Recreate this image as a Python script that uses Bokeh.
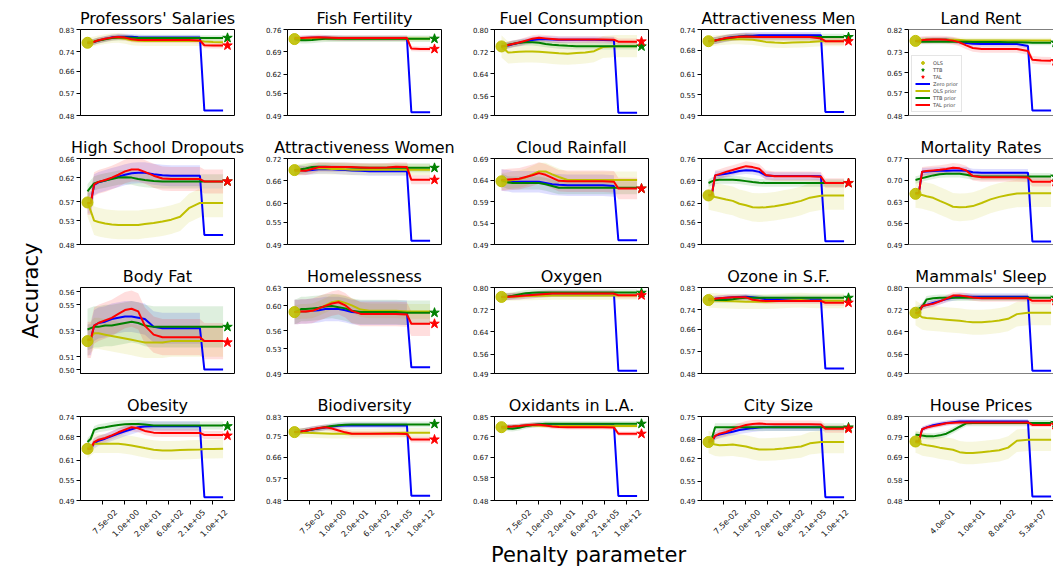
import math
from bokeh.plotting import figure
from bokeh.layouts import row, column
from bokeh.models import (Range1d, FixedTicker, PrintfTickFormatter, Legend, LegendItem, Span, Spacer,
                          LinearAxis)
from bokeh.core.properties import value
from bokeh.embed import file_html
from bokeh.resources import INLINE

FONT = "DejaVu Sans"
C_ZERO, C_OLS, C_TTB, C_TAL = "#0000ff", "#bfbf00", "#008000", "#ff0000"

# penalty-grid index (shared by all panels)
X = [0, 1.5, 3, 5, 8, 11, 14, 17, 20, 23, 26, 30, 34, 38, 42, 46, 51, 53, 57, 61.5]
X_OLS = 0
X_STAR = 63.5

titles = ["Professors' Salaries", "Fish Fertility", "Fuel Consumption", "Attractiveness Men", "Land Rent",
          "High School Dropouts", "Attractiveness Women", "Cloud Rainfall", "Car Accidents", "Mortality Rates",
          "Body Fat", "Homelessness", "Oxygen", "Ozone in S.F.", "Mammals' Sleep",
          "Obesity", "Biodiversity", "Oxidants in L.A.", "City Size", "House Prices"]

yticks = [
    [0.48, 0.57, 0.66, 0.74, 0.83], [0.49, 0.56, 0.62, 0.69, 0.76], [0.49, 0.56, 0.64, 0.72, 0.80],
    [0.49, 0.55, 0.61, 0.68, 0.74], [0.48, 0.57, 0.65, 0.73, 0.82],
    [0.48, 0.53, 0.57, 0.62, 0.66], [0.49, 0.55, 0.60, 0.66, 0.72], [0.49, 0.54, 0.59, 0.64, 0.69],
    [0.49, 0.56, 0.62, 0.69, 0.76], [0.49, 0.56, 0.63, 0.70, 0.77],
    [0.50, 0.51, 0.53, 0.55, 0.56], [0.49, 0.53, 0.56, 0.60, 0.63], [0.49, 0.56, 0.64, 0.72, 0.80],
    [0.48, 0.57, 0.66, 0.74, 0.83], [0.49, 0.56, 0.64, 0.72, 0.80],
    [0.49, 0.55, 0.61, 0.68, 0.74], [0.48, 0.57, 0.66, 0.75, 0.83], [0.48, 0.58, 0.67, 0.76, 0.85],
    [0.49, 0.55, 0.62, 0.68, 0.75], [0.48, 0.58, 0.69, 0.79, 0.89]]

ylo = [0.48, 0.49, 0.49, 0.49, 0.48, 0.48, 0.49, 0.49, 0.49, 0.49,
       0.497, 0.49, 0.49, 0.48, 0.49, 0.49, 0.48, 0.48, 0.49, 0.48]
yhi = [0.83, 0.76, 0.80, 0.74, 0.82, 0.66, 0.72, 0.69, 0.76, 0.77,
       0.5634, 0.63, 0.80, 0.83, 0.80, 0.74, 0.83, 0.85, 0.75, 0.89]

xtick_pos = [6.8, 16.8, 26.8, 36.8, 46.8, 56.8]
xtick_labels = ["7.5e-02", "1.0e+00", "2.0e+01", "6.0e+02", "2.1e+05", "1.0e+12"]
xtick_pos_hp = [11.0, 24.9, 38.7, 52.7]
xtick_labels_hp = ["4.0e-01", "1.0e+01", "8.0e+02", "5.3e+07"]

zero_prior = [
    [0.776, 0.776, 0.780, 0.785, 0.792, 0.798, 0.801, 0.801, 0.800, 0.798, 0.797, 0.797, 0.797, 0.797, 0.797, 0.797, 0.797, 0.50, 0.50, 0.50],
    [0.730, 0.731, 0.732, 0.733, 0.734, 0.734, 0.734, 0.733, 0.733, 0.732, 0.732, 0.732, 0.732, 0.732, 0.732, 0.732, 0.732, 0.50, 0.50, 0.50],
    [0.739, 0.740, 0.742, 0.747, 0.752, 0.757, 0.762, 0.765, 0.765, 0.764, 0.763, 0.763, 0.763, 0.763, 0.763, 0.762, 0.761, 0.50, 0.50, 0.50],
    [0.706, 0.707, 0.708, 0.710, 0.715, 0.718, 0.720, 0.722, 0.722, 0.723, 0.723, 0.723, 0.723, 0.723, 0.723, 0.723, 0.723, 0.50, 0.50, 0.50],
    [0.775, 0.776, 0.778, 0.779, 0.780, 0.780, 0.780, 0.777, 0.770, 0.767, 0.764, 0.763, 0.763, 0.763, 0.763, 0.763, 0.755, 0.50, 0.50, 0.50],
    [0.567, 0.567, 0.605, 0.610, 0.614, 0.618, 0.622, 0.626, 0.629, 0.630, 0.630, 0.627, 0.625, 0.624, 0.624, 0.624, 0.624, 0.50, 0.50, 0.50],
    [0.689, 0.689, 0.689, 0.688, 0.689, 0.691, 0.691, 0.691, 0.690, 0.689, 0.688, 0.687, 0.686, 0.686, 0.686, 0.686, 0.686, 0.50, 0.50, 0.50],
    [0.640, 0.639, 0.638, 0.636, 0.636, 0.636, 0.636, 0.636, 0.633, 0.630, 0.629, 0.628, 0.628, 0.628, 0.628, 0.628, 0.626, 0.50, 0.50, 0.50],
    [0.645, 0.646, 0.707, 0.709, 0.712, 0.716, 0.721, 0.723, 0.722, 0.718, 0.707, 0.705, 0.705, 0.705, 0.705, 0.705, 0.704, 0.50, 0.50, 0.50],
    [0.657, 0.657, 0.727, 0.728, 0.729, 0.730, 0.730, 0.731, 0.731, 0.730, 0.725, 0.724, 0.724, 0.724, 0.724, 0.724, 0.724, 0.50, 0.50, 0.50],
    [0.523, 0.523, 0.534, 0.536, 0.537, 0.539, 0.540, 0.541, 0.541, 0.540, 0.539, 0.533, 0.532, 0.532, 0.532, 0.532, 0.532, 0.50, 0.50, 0.50],
    [0.590, 0.590, 0.591, 0.591, 0.592, 0.593, 0.595, 0.595, 0.595, 0.593, 0.590, 0.589, 0.589, 0.589, 0.589, 0.589, 0.589, 0.50, 0.50, 0.50],
    [0.766, 0.766, 0.767, 0.768, 0.769, 0.771, 0.773, 0.775, 0.777, 0.778, 0.778, 0.778, 0.778, 0.778, 0.778, 0.778, 0.778, 0.50, 0.50, 0.50],
    [0.783, 0.783, 0.784, 0.786, 0.788, 0.790, 0.791, 0.792, 0.790, 0.787, 0.782, 0.781, 0.781, 0.781, 0.781, 0.781, 0.781, 0.50, 0.50, 0.50],
    [0.709, 0.709, 0.733, 0.737, 0.744, 0.751, 0.758, 0.764, 0.768, 0.768, 0.767, 0.767, 0.767, 0.767, 0.767, 0.767, 0.767, 0.50, 0.50, 0.50],
    [0.644, 0.644, 0.660, 0.668, 0.674, 0.682, 0.689, 0.696, 0.702, 0.708, 0.710, 0.711, 0.711, 0.711, 0.711, 0.711, 0.711, 0.50, 0.50, 0.50],
    [0.765, 0.766, 0.768, 0.771, 0.776, 0.780, 0.784, 0.788, 0.791, 0.793, 0.793, 0.793, 0.793, 0.793, 0.793, 0.793, 0.793, 0.50, 0.50, 0.50],
    [0.803, 0.804, 0.805, 0.806, 0.808, 0.810, 0.812, 0.815, 0.814, 0.812, 0.811, 0.811, 0.811, 0.811, 0.811, 0.811, 0.811, 0.50, 0.50, 0.50],
    [0.671, 0.671, 0.690, 0.694, 0.699, 0.703, 0.708, 0.711, 0.714, 0.716, 0.717, 0.717, 0.717, 0.717, 0.717, 0.717, 0.717, 0.50, 0.50, 0.50],
    [0.768, 0.768, 0.828, 0.837, 0.847, 0.853, 0.858, 0.862, 0.866, 0.866, 0.866, 0.866, 0.866, 0.866, 0.866, 0.866, 0.866, 0.50, 0.50, 0.50]]

ols_prior = [
    [0.776, 0.779, 0.782, 0.786, 0.791, 0.795, 0.796, 0.792, 0.786, 0.784, 0.783, 0.783, 0.783, 0.783, 0.783, 0.783, 0.783, 0.781, 0.779, 0.778],
    [0.730, 0.730, 0.731, 0.731, 0.731, 0.731, 0.731, 0.731, 0.731, 0.731, 0.731, 0.731, 0.731, 0.731, 0.731, 0.731, 0.731, 0.731, 0.731, 0.731],
    [0.739, 0.728, 0.717, 0.718, 0.720, 0.721, 0.721, 0.720, 0.718, 0.716, 0.714, 0.713, 0.715, 0.717, 0.722, 0.737, 0.740, 0.740, 0.740, 0.740],
    [0.706, 0.707, 0.708, 0.709, 0.711, 0.712, 0.712, 0.711, 0.710, 0.707, 0.704, 0.702, 0.701, 0.702, 0.703, 0.704, 0.706, 0.706, 0.706, 0.706],
    [0.775, 0.777, 0.779, 0.780, 0.780, 0.780, 0.780, 0.779, 0.778, 0.777, 0.777, 0.777, 0.777, 0.777, 0.777, 0.777, 0.777, 0.777, 0.777, 0.777],
    [0.568, 0.550, 0.530, 0.527, 0.524, 0.522, 0.521, 0.521, 0.521, 0.521, 0.523, 0.525, 0.528, 0.532, 0.538, 0.556, 0.567, 0.567, 0.567, 0.567],
    [0.689, 0.690, 0.691, 0.692, 0.693, 0.693, 0.693, 0.692, 0.692, 0.691, 0.690, 0.690, 0.690, 0.690, 0.690, 0.690, 0.690, 0.690, 0.690, 0.690],
    [0.637, 0.637, 0.638, 0.640, 0.642, 0.646, 0.653, 0.660, 0.660, 0.653, 0.647, 0.640, 0.640, 0.640, 0.640, 0.640, 0.640, 0.640, 0.640, 0.640],
    [0.644, 0.642, 0.639, 0.636, 0.631, 0.627, 0.618, 0.613, 0.607, 0.606, 0.607, 0.610, 0.615, 0.620, 0.627, 0.637, 0.643, 0.644, 0.644, 0.644],
    [0.655, 0.653, 0.651, 0.647, 0.642, 0.632, 0.623, 0.613, 0.611, 0.612, 0.615, 0.625, 0.637, 0.645, 0.651, 0.656, 0.657, 0.657, 0.657, 0.657],
    [0.522, 0.525, 0.528, 0.528, 0.527, 0.526, 0.525, 0.524, 0.523, 0.522, 0.521, 0.521, 0.521, 0.522, 0.522, 0.522, 0.522, 0.522, 0.522, 0.522],
    [0.590, 0.590, 0.591, 0.591, 0.592, 0.596, 0.601, 0.606, 0.608, 0.605, 0.601, 0.594, 0.592, 0.592, 0.592, 0.592, 0.591, 0.591, 0.591, 0.591],
    [0.766, 0.766, 0.767, 0.767, 0.768, 0.769, 0.769, 0.770, 0.770, 0.771, 0.771, 0.771, 0.771, 0.771, 0.771, 0.771, 0.771, 0.771, 0.771, 0.771],
    [0.779, 0.778, 0.777, 0.776, 0.775, 0.774, 0.773, 0.772, 0.772, 0.772, 0.772, 0.774, 0.776, 0.778, 0.779, 0.777, 0.776, 0.776, 0.776, 0.776],
    [0.709, 0.701, 0.693, 0.690, 0.688, 0.686, 0.684, 0.682, 0.680, 0.677, 0.675, 0.675, 0.677, 0.681, 0.687, 0.704, 0.709, 0.709, 0.709, 0.709],
    [0.644, 0.652, 0.659, 0.659, 0.659, 0.659, 0.659, 0.657, 0.654, 0.650, 0.646, 0.641, 0.639, 0.639, 0.640, 0.641, 0.642, 0.643, 0.643, 0.644],
    [0.765, 0.764, 0.763, 0.762, 0.761, 0.760, 0.759, 0.758, 0.758, 0.758, 0.758, 0.758, 0.758, 0.759, 0.760, 0.761, 0.762, 0.762, 0.762, 0.762],
    [0.803, 0.804, 0.805, 0.806, 0.808, 0.810, 0.811, 0.810, 0.809, 0.808, 0.808, 0.808, 0.808, 0.808, 0.808, 0.808, 0.808, 0.808, 0.808, 0.808],
    [0.671, 0.667, 0.663, 0.661, 0.662, 0.663, 0.660, 0.657, 0.652, 0.648, 0.648, 0.649, 0.651, 0.654, 0.657, 0.667, 0.671, 0.671, 0.671, 0.671],
    [0.768, 0.762, 0.754, 0.750, 0.745, 0.738, 0.733, 0.728, 0.716, 0.712, 0.712, 0.716, 0.720, 0.725, 0.738, 0.772, 0.776, 0.776, 0.776, 0.776]]

ttb_prior = [
    [0.776, 0.777, 0.780, 0.785, 0.790, 0.795, 0.797, 0.797, 0.796, 0.795, 0.795, 0.795, 0.795, 0.795, 0.795, 0.795, 0.795, 0.795, 0.795, 0.795],
    [0.730, 0.728, 0.726, 0.726, 0.727, 0.729, 0.731, 0.731, 0.731, 0.731, 0.731, 0.731, 0.731, 0.731, 0.731, 0.731, 0.731, 0.731, 0.731, 0.731],
    [0.739, 0.741, 0.745, 0.748, 0.752, 0.754, 0.754, 0.752, 0.748, 0.745, 0.743, 0.741, 0.740, 0.740, 0.740, 0.740, 0.740, 0.740, 0.740, 0.740],
    [0.706, 0.707, 0.708, 0.711, 0.714, 0.717, 0.719, 0.720, 0.719, 0.718, 0.718, 0.718, 0.718, 0.718, 0.718, 0.718, 0.718, 0.718, 0.718, 0.718],
    [0.775, 0.773, 0.772, 0.772, 0.772, 0.772, 0.772, 0.772, 0.772, 0.772, 0.771, 0.771, 0.771, 0.771, 0.770, 0.770, 0.769, 0.768, 0.768, 0.768],
    [0.591, 0.600, 0.608, 0.611, 0.614, 0.617, 0.620, 0.621, 0.620, 0.617, 0.615, 0.613, 0.612, 0.612, 0.612, 0.612, 0.612, 0.612, 0.612, 0.612],
    [0.689, 0.690, 0.691, 0.693, 0.697, 0.698, 0.698, 0.697, 0.697, 0.697, 0.696, 0.695, 0.695, 0.695, 0.695, 0.695, 0.695, 0.695, 0.695, 0.695],
    [0.640, 0.637, 0.634, 0.633, 0.633, 0.633, 0.633, 0.633, 0.630, 0.626, 0.622, 0.622, 0.622, 0.622, 0.622, 0.622, 0.622, 0.622, 0.622, 0.622],
    [0.683, 0.688, 0.692, 0.693, 0.693, 0.693, 0.692, 0.689, 0.686, 0.684, 0.683, 0.683, 0.683, 0.683, 0.683, 0.683, 0.683, 0.683, 0.683, 0.683],
    [0.700, 0.703, 0.706, 0.710, 0.715, 0.719, 0.720, 0.720, 0.720, 0.717, 0.713, 0.711, 0.711, 0.711, 0.711, 0.711, 0.711, 0.711, 0.711, 0.711],
    [0.531, 0.532, 0.533, 0.533, 0.534, 0.534, 0.535, 0.536, 0.537, 0.536, 0.534, 0.533, 0.533, 0.533, 0.533, 0.533, 0.533, 0.533, 0.533, 0.533],
    [0.590, 0.592, 0.595, 0.595, 0.596, 0.597, 0.599, 0.600, 0.598, 0.596, 0.592, 0.590, 0.590, 0.590, 0.590, 0.590, 0.589, 0.589, 0.589, 0.589],
    [0.766, 0.767, 0.768, 0.770, 0.775, 0.779, 0.781, 0.782, 0.782, 0.782, 0.782, 0.782, 0.782, 0.782, 0.782, 0.782, 0.782, 0.782, 0.782, 0.782],
    [0.779, 0.779, 0.779, 0.779, 0.779, 0.782, 0.786, 0.788, 0.788, 0.788, 0.788, 0.788, 0.788, 0.788, 0.788, 0.788, 0.788, 0.788, 0.788, 0.788],
    [0.718, 0.724, 0.730, 0.757, 0.761, 0.763, 0.763, 0.763, 0.763, 0.763, 0.763, 0.763, 0.763, 0.763, 0.763, 0.763, 0.763, 0.763, 0.763, 0.763],
    [0.664, 0.674, 0.700, 0.705, 0.708, 0.712, 0.715, 0.717, 0.718, 0.718, 0.716, 0.713, 0.713, 0.713, 0.713, 0.713, 0.713, 0.713, 0.713, 0.713],
    [0.765, 0.766, 0.768, 0.771, 0.776, 0.781, 0.786, 0.790, 0.794, 0.796, 0.797, 0.797, 0.797, 0.797, 0.797, 0.797, 0.797, 0.797, 0.797, 0.797],
    [0.803, 0.800, 0.797, 0.796, 0.800, 0.808, 0.813, 0.816, 0.818, 0.818, 0.818, 0.818, 0.818, 0.818, 0.818, 0.818, 0.818, 0.818, 0.818, 0.818],
    [0.676, 0.681, 0.717, 0.717, 0.717, 0.717, 0.717, 0.717, 0.717, 0.717, 0.717, 0.717, 0.717, 0.717, 0.717, 0.717, 0.717, 0.717, 0.717, 0.717],
    [0.801, 0.800, 0.797, 0.794, 0.793, 0.798, 0.806, 0.822, 0.840, 0.857, 0.858, 0.858, 0.858, 0.858, 0.858, 0.858, 0.858, 0.858, 0.858, 0.858]]

tal_prior = [
    [0.776, 0.776, 0.780, 0.786, 0.792, 0.797, 0.799, 0.797, 0.790, 0.787, 0.787, 0.787, 0.787, 0.787, 0.787, 0.787, 0.785, 0.766, 0.765, 0.765],
    [0.733, 0.733, 0.733, 0.734, 0.735, 0.736, 0.735, 0.734, 0.733, 0.733, 0.733, 0.733, 0.733, 0.733, 0.733, 0.733, 0.733, 0.700, 0.699, 0.699],
    [0.739, 0.741, 0.744, 0.748, 0.753, 0.760, 0.767, 0.770, 0.768, 0.766, 0.764, 0.764, 0.764, 0.764, 0.764, 0.764, 0.763, 0.756, 0.756, 0.756],
    [0.706, 0.707, 0.708, 0.711, 0.715, 0.717, 0.719, 0.720, 0.719, 0.718, 0.718, 0.718, 0.718, 0.718, 0.718, 0.718, 0.714, 0.706, 0.706, 0.706],
    [0.775, 0.776, 0.778, 0.779, 0.780, 0.780, 0.779, 0.776, 0.769, 0.757, 0.747, 0.743, 0.743, 0.743, 0.743, 0.743, 0.735, 0.700, 0.697, 0.696],
    [0.567, 0.567, 0.606, 0.611, 0.615, 0.620, 0.626, 0.633, 0.637, 0.637, 0.632, 0.624, 0.618, 0.617, 0.617, 0.617, 0.617, 0.612, 0.612, 0.612],
    [0.687, 0.687, 0.687, 0.687, 0.692, 0.697, 0.697, 0.697, 0.697, 0.697, 0.697, 0.696, 0.695, 0.695, 0.696, 0.698, 0.697, 0.663, 0.663, 0.663],
    [0.640, 0.640, 0.641, 0.642, 0.643, 0.647, 0.651, 0.656, 0.652, 0.645, 0.638, 0.637, 0.637, 0.637, 0.637, 0.637, 0.636, 0.620, 0.620, 0.620],
    [0.645, 0.646, 0.707, 0.711, 0.718, 0.724, 0.730, 0.736, 0.733, 0.728, 0.708, 0.704, 0.704, 0.704, 0.704, 0.704, 0.703, 0.683, 0.683, 0.683],
    [0.657, 0.657, 0.727, 0.729, 0.731, 0.733, 0.736, 0.740, 0.738, 0.731, 0.713, 0.709, 0.709, 0.709, 0.709, 0.709, 0.708, 0.694, 0.694, 0.694],
    [0.523, 0.523, 0.534, 0.536, 0.538, 0.540, 0.543, 0.546, 0.547, 0.545, 0.534, 0.527, 0.525, 0.525, 0.525, 0.525, 0.525, 0.522, 0.522, 0.522],
    [0.590, 0.590, 0.591, 0.591, 0.592, 0.596, 0.600, 0.604, 0.606, 0.601, 0.592, 0.587, 0.587, 0.587, 0.587, 0.587, 0.586, 0.571, 0.571, 0.571],
    [0.766, 0.766, 0.767, 0.768, 0.769, 0.771, 0.773, 0.775, 0.777, 0.778, 0.778, 0.778, 0.778, 0.778, 0.778, 0.778, 0.778, 0.772, 0.772, 0.772],
    [0.783, 0.783, 0.784, 0.786, 0.788, 0.790, 0.790, 0.790, 0.780, 0.777, 0.775, 0.775, 0.775, 0.775, 0.775, 0.775, 0.775, 0.768, 0.768, 0.768],
    [0.709, 0.709, 0.733, 0.737, 0.741, 0.750, 0.760, 0.771, 0.771, 0.768, 0.764, 0.761, 0.761, 0.761, 0.761, 0.761, 0.761, 0.752, 0.752, 0.752],
    [0.644, 0.644, 0.664, 0.671, 0.676, 0.684, 0.693, 0.701, 0.708, 0.705, 0.697, 0.692, 0.691, 0.691, 0.691, 0.691, 0.691, 0.685, 0.685, 0.685],
    [0.765, 0.766, 0.768, 0.771, 0.777, 0.782, 0.785, 0.780, 0.772, 0.764, 0.758, 0.758, 0.758, 0.758, 0.758, 0.758, 0.757, 0.734, 0.734, 0.734],
    [0.803, 0.804, 0.805, 0.806, 0.808, 0.811, 0.814, 0.814, 0.810, 0.806, 0.804, 0.803, 0.803, 0.803, 0.803, 0.803, 0.802, 0.774, 0.774, 0.774],
    [0.671, 0.675, 0.690, 0.697, 0.702, 0.710, 0.718, 0.724, 0.727, 0.728, 0.727, 0.726, 0.726, 0.726, 0.726, 0.726, 0.725, 0.712, 0.712, 0.712],
    [0.768, 0.768, 0.828, 0.836, 0.843, 0.850, 0.857, 0.860, 0.861, 0.861, 0.861, 0.861, 0.861, 0.861, 0.861, 0.861, 0.861, 0.849, 0.849, 0.849]]

ols_point = [0.776, 0.730, 0.739, 0.706, 0.775, 0.568, 0.689, 0.637, 0.644, 0.655,
             0.522, 0.590, 0.766, 0.779, 0.709, 0.644, 0.765, 0.803, 0.671, 0.768]
ttb_point = [0.796, 0.731, 0.739, 0.718, 0.768, 0.612, 0.695, 0.620, 0.683, 0.711,
             0.533, 0.589, 0.781, 0.788, 0.763, 0.711, 0.799, 0.818, 0.716, 0.858]
tal_point = [0.765, 0.699, 0.757, 0.706, 0.695, 0.612, 0.663, 0.620, 0.683, 0.694,
             0.521, 0.571, 0.772, 0.768, 0.752, 0.683, 0.734, 0.774, 0.712, 0.849]

# half-widths of the shaded spread bands
zero_band = [0.012, 0.008, 0.012, 0.010, 0.010, 0.022, 0.012, 0.025, 0.012, 0.012,
             0.012, 0.020, 0.012, 0.012, 0.012, 0.015, 0.012, 0.010, 0.012, 0.012]
ols_band = [0.020, 0.008, 0.040, 0.015, 0.010, 0.030, 0.015, 0.020, 0.045, 0.045,
            0.012, 0.012, 0.015, 0.030, 0.045, 0.028, 0.020, 0.010, 0.035, 0.055]
ttb_band = [0.012, 0.010, 0.012, 0.010, 0.010, 0.015, 0.012, 0.015, 0.012, 0.012,
            0.016, 0.020, 0.012, 0.012, 0.012, 0.012, 0.012, 0.012, 0.012, 0.015]
tal_band = [0.012, 0.008, 0.012, 0.010, 0.015, 0.025, 0.012, 0.025, 0.015, 0.015,
            0.014, 0.020, 0.012, 0.012, 0.012, 0.012, 0.012, 0.010, 0.012, 0.012]

X0, X1_FULL = -3.175, 66.675
X1_CUT = X0 + (X1_FULL - X0) * 145 / 154
LABEL_SHIFT = 5.8   # rotated tick labels are centred on their ticks (as in the original)


def make_panel(i):
    r, c = divmod(i, 5)
    last = c == 4
    bottom = r == 3
    p = figure(width=177 if last else 207, height=147 if bottom else 129,
               x_range=Range1d(X0, X1_CUT if last else X1_FULL),
               y_range=Range1d(ylo[i], yhi[i]),
               output_backend="svg", toolbar_location=None,
               min_border_left=32, min_border_right=0 if last else 21,
               min_border_top=21, min_border_bottom=40 if bottom else 22,
               title=titles[i])
    t = p.title
    t.text_font = FONT
    t.text_font_size = "16px"
    t.text_font_style = "normal"
    t.text_color = "black"
    t.align = "center"
    t.vertical_align = "top"
    t.standoff = 0
    if last:
        t.offset = 4
    p.xgrid.visible = False
    p.ygrid.visible = False
    p.background_fill_color = "white"
    p.border_fill_color = "white"
    if last:
        p.outline_line_color = None
        p.add_layout(Span(location=yhi[i], dimension="width", line_color="black", line_width=1))
        if not bottom:
            p.add_layout(Span(location=ylo[i], dimension="width", line_color="black", line_width=1))
    else:
        p.outline_line_color = "black"
        p.outline_line_width = 1
        p.outline_line_alpha = 1

    ya = p.yaxis[0]
    ya.ticker = FixedTicker(ticks=yticks[i])
    ya.formatter = PrintfTickFormatter(format="%.2f")
    ya.major_label_text_font = FONT
    ya.major_label_text_font_size = "7px"
    ya.major_label_text_color = "#111111"
    ya.major_tick_out = 4
    ya.major_tick_in = 0
    ya.major_label_standoff = 2
    ya.minor_tick_line_color = None
    ya.axis_line_color = "black"
    ya.major_tick_line_color = "black"

    xa = p.xaxis[0]
    if bottom:
        if i == 19:
            pos, labs = xtick_pos_hp, xtick_labels_hp
        else:
            pos, labs = xtick_pos, xtick_labels
        # tick marks
        xa.ticker = FixedTicker(ticks=pos)
        xa.major_label_overrides = {k: "" for k in pos}
        xa.major_label_text_font_size = "1px"
        xa.major_label_standoff = 0
        xa.major_tick_out = 4
        xa.major_tick_in = 0
        xa.minor_tick_line_color = None
        xa.axis_line_color = "black"
        # rotated labels, centred on the tick marks
        lpos = [v + LABEL_SHIFT for v in pos]
        la = LinearAxis(ticker=FixedTicker(ticks=lpos),
                        major_label_overrides={k: v for k, v in zip(lpos, labs)},
                        major_label_orientation=math.pi / 4,
                        major_label_text_font=FONT, major_label_text_font_size="8px",
                        major_label_text_color="#111111", major_label_standoff=0,
                        major_tick_line_color=None, minor_tick_line_color=None,
                        axis_line_color=None)
        p.add_layout(la, "below")
    else:
        xa.visible = False

    series = [(zero_prior[i], zero_band[i], C_ZERO),
              (ols_prior[i], ols_band[i], C_OLS),
              (ttb_prior[i], ttb_band[i], C_TTB),
              (tal_prior[i], tal_band[i], C_TAL)]
    for k, (ys, bw, col) in enumerate(series):
        n = 17 if k == 0 else len(X)  # zero-prior spread only before collapse
        p.varea(x=X[:n], y1=[v - bw for v in ys[:n]], y2=[v + bw for v in ys[:n]],
                fill_color=col, fill_alpha=0.13)
    lines = [p.line(X, ys, line_color=col, line_width=2) for ys, _, col in series]
    r_ols = p.scatter([X_OLS], [ols_point[i]], marker="circle", size=11,
                      fill_color=C_OLS, line_color=C_OLS, fill_alpha=0.9)
    r_ttb = p.scatter([X_STAR], [ttb_point[i]], marker="star", size=10,
                      fill_color=C_TTB, line_color=C_TTB)
    r_tal = p.scatter([X_STAR], [tal_point[i]], marker="star", size=10,
                      fill_color=C_TAL, line_color=C_TAL)

    if i == 4:
        items = [LegendItem(label="OLS", renderers=[r_ols]),
                 LegendItem(label="TTB", renderers=[r_ttb]),
                 LegendItem(label="TAL", renderers=[r_tal]),
                 LegendItem(label="Zero prior", renderers=[lines[0]]),
                 LegendItem(label="OLS prior", renderers=[lines[1]]),
                 LegendItem(label="TTB prior", renderers=[lines[2]]),
                 LegendItem(label="TAL prior", renderers=[lines[3]])]
        leg = Legend(items=items, location="bottom_left",
                     label_text_font=FONT, label_text_font_size="5px",
                     glyph_height=7, glyph_width=15, label_height=6,
                     spacing=0, padding=3, margin=3, label_standoff=3,
                     border_line_color="#cccccc", background_fill_alpha=0.8)
        p.add_layout(leg)
    return p


panels = [make_panel(i) for i in range(20)]
grid = column(*[row(*panels[r * 5:(r + 1) * 5]) for r in range(4)])

GRID_H = 129 * 3 + 147
lab_left = figure(width=48, height=GRID_H, x_range=Range1d(0, 48), y_range=Range1d(0, GRID_H),
                  x_axis_type=None, y_axis_type=None, min_border=0,
                  output_backend="svg", toolbar_location=None)
lab_left.outline_line_color = None
lab_left.text(x=[30], y=[GRID_H - 282], text=["Accuracy"], angle=math.pi / 2,
              text_align="center", text_baseline="middle",
              text_font=value(FONT), text_font_size="21px", text_color="black")

BOT_H = 567 - 8 - GRID_H
lab_bottom = figure(width=1053, height=BOT_H, x_range=Range1d(0, 1053), y_range=Range1d(0, BOT_H),
                    x_axis_type=None, y_axis_type=None, min_border=0,
                    output_backend="svg", toolbar_location=None)
lab_bottom.outline_line_color = None
lab_bottom.text(x=[588], y=[BOT_H / 2], text=["Penalty parameter"],
                text_align="center", text_baseline="middle",
                text_font=value(FONT), text_font_size="21px", text_color="black")

layout = column(Spacer(width=1053, height=8), row(lab_left, grid), lab_bottom)
open("out.html", "w").write(file_html(layout, INLINE))
